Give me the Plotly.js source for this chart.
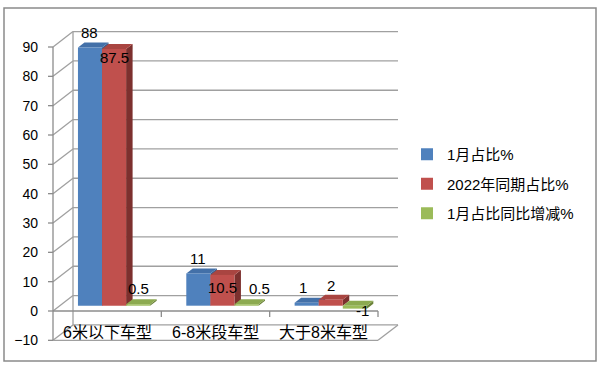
<!DOCTYPE html>
<html>
<head>
<meta charset="utf-8">
<script src="https://cdn.plot.ly/plotly-3.0.1.min.js"></script>
<style>html,body{margin:0;padding:0;background:#fff;}#chart{width:600px;height:369px;}</style>
</head>
<body>
<div id="chart"></div>
<script>
// ---------- data ----------
const categories = ['6米以下车型', '6-8米段车型', '大于8米车型'];
const seriesNames = ['1月占比%', '2022年同期占比%', '1月占比同比增减%'];
const janShare = [88, 11, 1];
const lastYearShare = [87.5, 10.5, 2];
const shareChange = [0.5, 0.5, -1];
const yTicks = [-10, 0, 10, 20, 30, 40, 50, 60, 70, 80, 90];

// ---------- style / geometry ----------
const seriesValues = [janShare, lastYearShare, shareChange];
const frontCol = ['#4F81BD', '#C0504D', '#9BBB59'];
const topCol = ['#4370A8', '#A94541', '#8CAA50'];
const sideCol = ['#375C8C', '#7C302E', '#6B8238'];
const FONT = 'Liberation Sans, Noto Sans CJK SC, sans-serif';

const W = 600, H = 369;
const frontX0 = 53, catPx = 325 / 3, zeroPx = 311, unitPx = 264 / 90;
const Lp = 47, Rp = 405, Tp = 22, Bp = 346;
const plotW = Rp - Lp, plotH = Bp - Tp;
const xRange = [(Lp - frontX0) / catPx, (Rp - frontX0) / catPx];
const yRange = [(zeroPx - Bp) / unitPx, (zeroPx - Tp) / unitPx];
const WD = {x: 20 / catPx, y: 15.4 / unitPx};   // wall depth
const BS = {x: 6.9 / catPx, y: 5.3 / unitPx};   // bar front plane shift
const BD = {x: 6.5 / catPx, y: 5.0 / unitPx};   // bar depth
const bargap = 1 / 3;
const barW = (1 - bargap) / 3;
// label shifts in px [dx, dy] per series per category
const labelShift = [
  [[0, 14.6], [0, 15.4], [-3.6, 14.8]],
  [[0, -8.5], [0, -13], [0, 14.8]],
  [[0, 16], [13.5, 16], [8, -2]]
];

const shapes = [];
function line(x0, y0, x1, y1, color, width, xref, yref) {
  shapes.push({type: 'line', layer: 'below', xref: xref || 'x', yref: yref || 'y',
    x0: x0, y0: y0, x1: x1, y1: y1, line: {color: color, width: width}});
}
const gridC = '#a0a0a0', axisC = '#8c8c8c';
// back wall gridlines & side wall diagonals & front ticks
yTicks.forEach(v => {
  line(WD.x, v + WD.y, categories.length + WD.x, v + WD.y, gridC, 1.3);
  line(0, v, WD.x, v + WD.y, gridC, 1.3);
  line(-5 / catPx, v, 0, v, axisC, 1.3);
});
const yMin = yTicks[0], yMax = yTicks[yTicks.length - 1];
line(WD.x, yMin + WD.y, WD.x, yMax + WD.y, gridC, 1.3);
line(0, yMin, 0, yMax, axisC, 1.3);
// floor
line(0, yMin, categories.length, yMin, gridC, 1.3);
line(categories.length, yMin, categories.length + WD.x, yMin + WD.y, gridC, 1.3);
// category axis at 0
line(0, 0, categories.length, 0, axisC, 1.3);
categories.forEach((c, i) => line(i + 1, 0, i + 1, -6 / unitPx, axisC, 1.3));

// bar top & side faces (drawn below the bar traces)
const annotations = [];
seriesValues.forEach((vals, k) => {
  vals.forEach((v, i) => {
    const cx = i + 0.5 + (k - 1) * barW;
    const xl = cx - barW / 2, xr = cx + barW / 2;
    const top = Math.max(v, 0), bot = Math.min(v, 0);
    shapes.push({type: 'path', layer: 'below', xref: 'x2', yref: 'y2',
      path: `M${xr},${bot}L${xr},${top}L${xr + BD.x},${top + BD.y}L${xr + BD.x},${bot + BD.y}Z`,
      fillcolor: sideCol[k], line: {width: 0}});
    shapes.push({type: 'path', layer: 'below', xref: 'x2', yref: 'y2',
      path: `M${xl},${top}L${xr},${top}L${xr + BD.x},${top + BD.y}L${xl + BD.x},${top + BD.y}Z`,
      fillcolor: topCol[k], line: {width: 0}});
    annotations.push({xref: 'x2', yref: 'y2', x: cx, y: v, text: String(v), showarrow: false,
      xshift: labelShift[k][i][0], yshift: labelShift[k][i][1],
      font: {family: FONT, size: 15, color: '#000'}});
  });
});
// category labels
categories.forEach((c, i) => annotations.push({xref: 'x', yref: 'y', x: i + 0.5, y: (zeroPx - 332.5) / unitPx,
  text: c, showarrow: false, font: {family: FONT, size: 16, color: '#000'}}));

// outer border
shapes.push({type: 'rect', xref: 'paper', yref: 'paper', layer: 'above',
  x0: (4 - Lp) / plotW, x1: (596 - Lp) / plotW, y0: (Bp - 361) / plotH, y1: (Bp - 8) / plotH,
  line: {color: '#8a8a8a', width: 1.5}, fillcolor: 'rgba(0,0,0,0)'});

const traces = [{x: [], y: [], type: 'scatter', showlegend: false, hoverinfo: 'skip', xaxis: 'x', yaxis: 'y'}];
seriesValues.forEach((vals, k) => traces.push({
  type: 'bar', name: seriesNames[k], x: categories.map((c, i) => i + 0.5), y: vals,
  xaxis: 'x2', yaxis: 'y2', marker: {color: frontCol[k], line: {width: 0}},
  legendgroup: 'g' + k, hoverinfo: 'skip'
}));

const layout = {
  width: W, height: H,
  margin: {l: Lp, r: W - Rp, t: Tp, b: H - Bp, pad: 0},
  paper_bgcolor: '#fff', plot_bgcolor: 'rgba(0,0,0,0)',
  barmode: 'group', bargap: bargap, bargroupgap: 0,
  font: {family: FONT, size: 14, color: '#000'},
  xaxis: {range: xRange, showgrid: false, zeroline: false, showticklabels: false, ticks: '', showline: false, fixedrange: true},
  yaxis: {range: yRange, tickvals: yTicks, showgrid: false, zeroline: false, showline: false, ticks: '',
          ticklabelstandoff: 8, tickfont: {family: FONT, size: 14, color: '#000'}, fixedrange: true},
  xaxis2: {overlaying: 'x', range: [xRange[0] - BS.x, xRange[1] - BS.x], visible: false, fixedrange: true},
  yaxis2: {overlaying: 'y', range: [yRange[0] - BS.y, yRange[1] - BS.y], visible: false, fixedrange: true},
  showlegend: true,
  legend: {x: (407 - Lp) / plotW, xanchor: 'left', y: (Bp - 184) / plotH, yanchor: 'middle',
           font: {family: FONT, size: 15, color: '#000'}, traceorder: 'grouped', tracegroupgap: 7,
           bgcolor: 'rgba(0,0,0,0)'},
  shapes: shapes, annotations: annotations
};
Plotly.newPlot('chart', traces, layout, {displayModeBar: false, staticPlot: true});
</script>
</body>
</html>
